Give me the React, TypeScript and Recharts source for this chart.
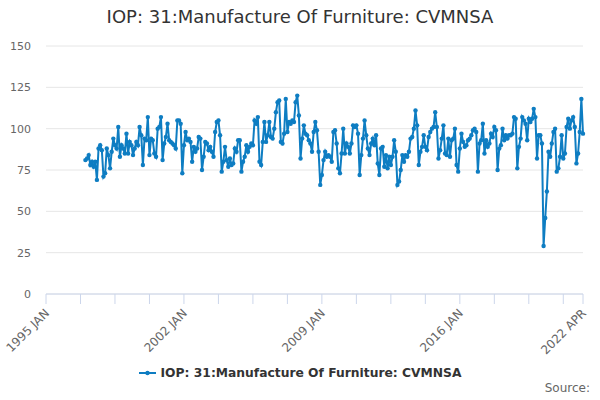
import { LineChart, Line, XAxis, YAxis, CartesianGrid, Legend } from "recharts";

const title = "IOP: 31:Manufacture Of Furniture: CVMNSA";
const seriesName = "IOP: 31:Manufacture Of Furniture: CVMNSA";

// month index counted from 1995 JAN; the series starts in 1997 JAN
const firstMonth = 24;

// monthly values, one row per year (1997 .. 2022 APR)
const values = [
  81, 82, 84, 78, 80, 77, 80, 69, 88, 90, 87, 71,
  73, 88, 84, 76, 86, 94, 90, 88, 101, 83, 90, 88,
  85, 97, 85, 92, 90, 84, 88, 92, 90, 101, 96, 78,
  94, 93, 107, 84, 94, 93, 85, 83, 100, 101, 107, 81,
  91, 95, 103, 93, 92, 91, 90, 88, 105, 105, 103, 73,
  90, 98, 93, 94, 92, 80, 89, 86, 88, 95, 94, 75,
  83, 92, 91, 87, 89, 86, 83, 98, 104, 105, 96, 74,
  80, 89, 81, 77, 82, 78, 79, 88, 86, 93, 93, 74,
  80, 83, 90, 86, 89, 91, 90, 105, 103, 107, 80, 78,
  92, 104, 92, 96, 104, 95, 94, 100, 110, 116, 117, 92,
  91, 97, 118, 98, 104, 103, 105, 104, 116, 120, 108, 82,
  94, 102, 97, 96, 93, 91, 86, 98, 104, 99, 86, 66,
  72, 81, 86, 83, 84, 83, 80, 98, 99, 91, 76, 73,
  85, 100, 85, 91, 89, 85, 91, 102, 101, 102, 97, 72,
  84, 94, 105, 96, 88, 84, 91, 94, 90, 96, 79, 72,
  88, 89, 77, 84, 76, 83, 78, 83, 93, 86, 66, 68,
  75, 84, 80, 84, 83, 86, 94, 95, 100, 111, 102, 78,
  86, 89, 96, 89, 87, 95, 98, 100, 101, 110, 101, 82,
  87, 94, 102, 85, 84, 94, 83, 93, 94, 100, 78, 74,
  88, 97, 92, 89, 90, 93, 94, 96, 99, 100, 98, 74,
  91, 93, 103, 85, 93, 89, 91, 97, 95, 101, 99, 75,
  88, 90, 100, 93, 96, 94, 96, 96, 97, 107, 106, 76,
  89, 94, 107, 105, 103, 93, 106, 104, 106, 112, 107, 82,
  96, 96, 91, 29, 46, 62, 86, 83, 91, 98, 100, 74,
  76, 83, 96, 82, 85, 101, 106, 100, 105, 107, 101, 79,
  85, 98, 118, 97,
];

const xTicks = [0, 21, 42, 63, 84, 105, 126, 147, 168, 189, 210, 231, 252, 273, 294, 315, 327];
const xLabelTicks = [0, 84, 168, 252, 327];
const xLabels = ["1995 JAN", "2002 JAN", "2009 JAN", "2016 JAN", "2022 APR"];
const yTicks = [0, 25, 50, 75, 100, 125, 150];

const data = values.map((v, i) => ({ m: firstMonth + i, value: v }));

const COLOR = "#0e7dc2";
const FONT = "DejaVu Sans";

function XTick({ x, y, payload }: any) {
  const idx = xLabelTicks.indexOf(payload.value);
  if (idx < 0) return null;
  return (
    <text
      x={x + 4}
      y={y + 8}
      transform={`rotate(-45, ${x + 4}, ${y + 8})`}
      textAnchor="end"
      fontSize={12}
      fontFamily={FONT}
      fill="#666666"
    >
      {xLabels[idx]}
    </text>
  );
}

function YTick({ y, payload }: any) {
  return (
    <text x={31} y={y + 4} textAnchor="end" fontSize={11} fontFamily={FONT} fill="#666666">
      {payload.value}
    </text>
  );
}

function LegendContent() {
  return (
    <div
      style={{
        display: "flex",
        justifyContent: "center",
        alignItems: "center",
        fontFamily: FONT,
        fontSize: 12.3,
        fontWeight: "bold",
        color: "#333333",
      }}
    >
      <svg width={17} height={10} style={{ marginRight: 5 }}>
        <line x1={0} y1={5} x2={17} y2={5} stroke={COLOR} strokeWidth={2} />
        <circle cx={8.5} cy={5} r={2.2} fill={COLOR} />
      </svg>
      <span>{seriesName}</span>
    </div>
  );
}

export default function App() {
  return (
    <div style={{ position: "fixed", left: 0, top: 0, width: 600, height: 400, background: "#fff" }}>
      <div
        style={{
          position: "absolute",
          top: 6,
          left: 0,
          width: 600,
          textAlign: "center",
          fontFamily: FONT,
          fontSize: 18,
          color: "#333333",
        }}
      >
        {title}
      </div>
      <LineChart width={600} height={400} data={data} margin={{ top: 46, right: 17, bottom: 0, left: 0 }}>
        <CartesianGrid horizontal vertical={false} stroke="#e6e6e6" />
        <XAxis
          dataKey="m"
          type="number"
          domain={[0, 327]}
          ticks={xTicks}
          interval={0}
          height={106}
          axisLine={{ stroke: "#ccd6eb" }}
          tickLine={{ stroke: "#ccd6eb" }}
          tickSize={10}
          tick={<XTick />}
        />
        <YAxis
          domain={[0, 150]}
          ticks={yTicks}
          width={46}
          axisLine={false}
          tickLine={false}
          tick={<YTick />}
        />
        <Legend
          layout="horizontal"
          verticalAlign="middle"
          align="center"
          content={<LegendContent />}
          wrapperStyle={{ top: 366, left: 0, width: 600 }}
        />
        <Line
          type="linear"
          dataKey="value"
          stroke={COLOR}
          strokeWidth={2}
          dot={{ r: 2.2, fill: COLOR, stroke: COLOR, strokeWidth: 0 }}
          isAnimationActive={false}
        />
      </LineChart>
      <div
        style={{
          position: "absolute",
          top: 381,
          right: 10,
          fontFamily: FONT,
          fontSize: 12,
          color: "#666666",
        }}
      >
        Source:
      </div>
    </div>
  );
}
